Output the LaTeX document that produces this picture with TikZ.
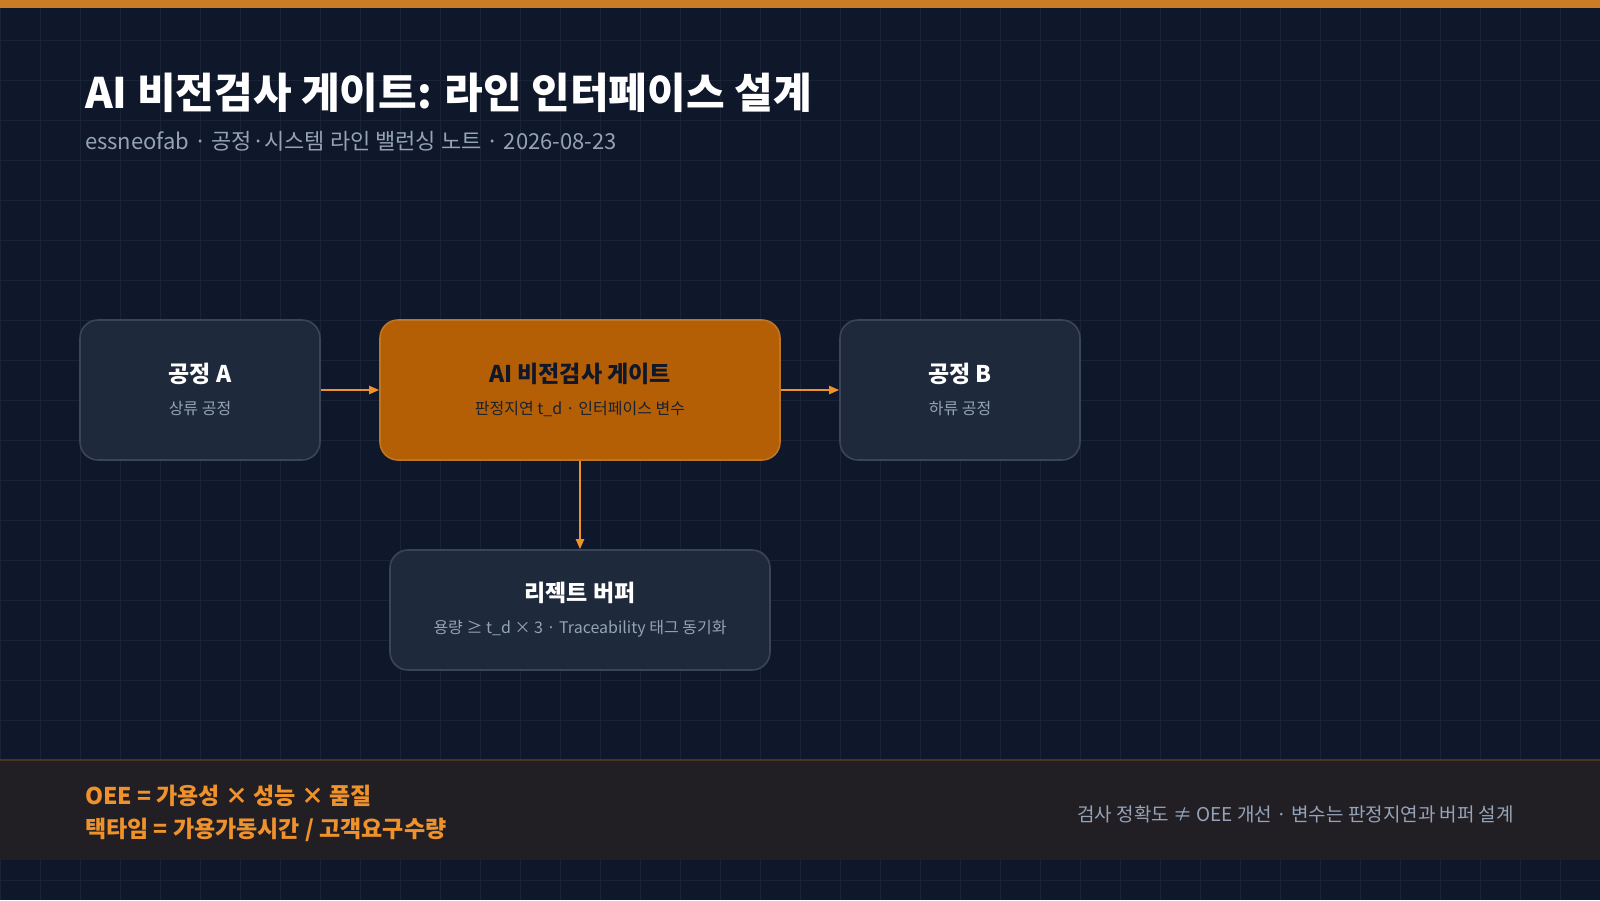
\documentclass[tikz,border=0pt]{standalone}
\usepackage{fontspec}
\setmainfont{Noto Sans CJK KR}
\usetikzlibrary{positioning, arrows.meta}
\definecolor{bgdark}{HTML}{0F172A}
\definecolor{gridline}{HTML}{1A2436}
\definecolor{boxfill}{HTML}{1E293B}
\definecolor{boxline}{HTML}{3A4556}
\definecolor{gatefill}{HTML}{B45F06}
\definecolor{accent}{HTML}{F0922B}
\definecolor{subgray}{HTML}{94A3B8}
\definecolor{bandfill}{HTML}{221F24}
\definecolor{bandline}{HTML}{4A3325}
\tikzset{
  stage/.style={draw=boxline, fill=boxfill, rounded corners=9pt, line width=0.8pt, minimum width=120pt, minimum height=70pt},
  gate/.style={stage, draw=accent!80!black, fill=gatefill, minimum width=200pt},
  flow/.style={draw=accent, line width=1pt, -{Triangle[length=5pt,width=4pt]}},
  head/.style={font=\bfseries\fontsize{11.5}{13}\selectfont, text=white},
  sub/.style={font=\fontsize{8}{10}\selectfont, text=subgray}
}
\begin{document}
\begin{tikzpicture}[x=0.5pt, y=-0.5pt]
  \fill[bgdark] (0,0) rectangle (1600,900);
  \useasboundingbox (0,0) rectangle (1600,900);
  % grid
  \foreach \x in {0,40,...,1600} {
    \draw[gridline, line width=0.4pt] (\x,0) -- (\x,900);
  }
  \foreach \y in {0,40,...,900} {
    \draw[gridline, line width=0.4pt] (0,\y) -- (1600,\y);
  }
  \fill[accent!85!black] (0,0) rectangle (1600,8);

  % title
  \node[anchor=west, text=white, font=\bfseries\fontsize{21}{24}\selectfont] (title) at (78,93) {AI 비전검사 게이트: 라인 인터페이스 설계};
  \node[anchor=west, text=subgray, font=\fontsize{11}{13}\selectfont] (subtitle) at (78,141) {essneofab · 공정·시스템 라인 밸런싱 노트 · 2026-08-23};

  % stages
  \node[stage] (procA) at (200,390) {};
  \node[gate] (gate) at (580,390) {};
  \node[stage] (procB) at (960,390) {};
  \node[stage, minimum width=190pt, minimum height=60pt] (buffer) at (580,610) {};

  \node[head] at (200,374) {공정 A};
  \node[sub] at (200,409) {상류 공정};
  \node[head, text=bgdark] at (580,374) {AI 비전검사 게이트};
  \node[sub, text=boxfill!80!black] at (580,409) {판정지연 t\_d · 인터페이스 변수};
  \node[head] at (960,374) {공정 B};
  \node[sub] at (960,409) {하류 공정};
  \node[head] at (580,593) {리젝트 버퍼};
  \node[sub] at (580,629) {용량 ≥ t\_d × 3 · Traceability 태그 동기화};

  \draw[flow] (procA) -- (gate);
  \draw[flow] (gate) -- (procB);
  \draw[flow] (gate) -- (buffer);

  % bottom band
  \fill[bandfill] (0,760) rectangle (1600,860);
  \draw[bandline, line width=0.8pt] (0,760) -- (1600,760);
  \node[anchor=west, text=accent, font=\bfseries\fontsize{11.5}{13}\selectfont] (oee) at (78,796) {OEE = 가용성 × 성능 × 품질};
  \node[anchor=west, text=accent, font=\bfseries\fontsize{11.5}{13}\selectfont] (takt) at (78,830) {택타임 = 가용가동시간 / 고객요구수량};
  \node[anchor=east, text=subgray, font=\fontsize{9.5}{11}\selectfont] (note) at (1521,814) {검사 정확도 ≠ OEE 개선 · 변수는 판정지연과 버퍼 설계};
\end{tikzpicture}
\end{document}
